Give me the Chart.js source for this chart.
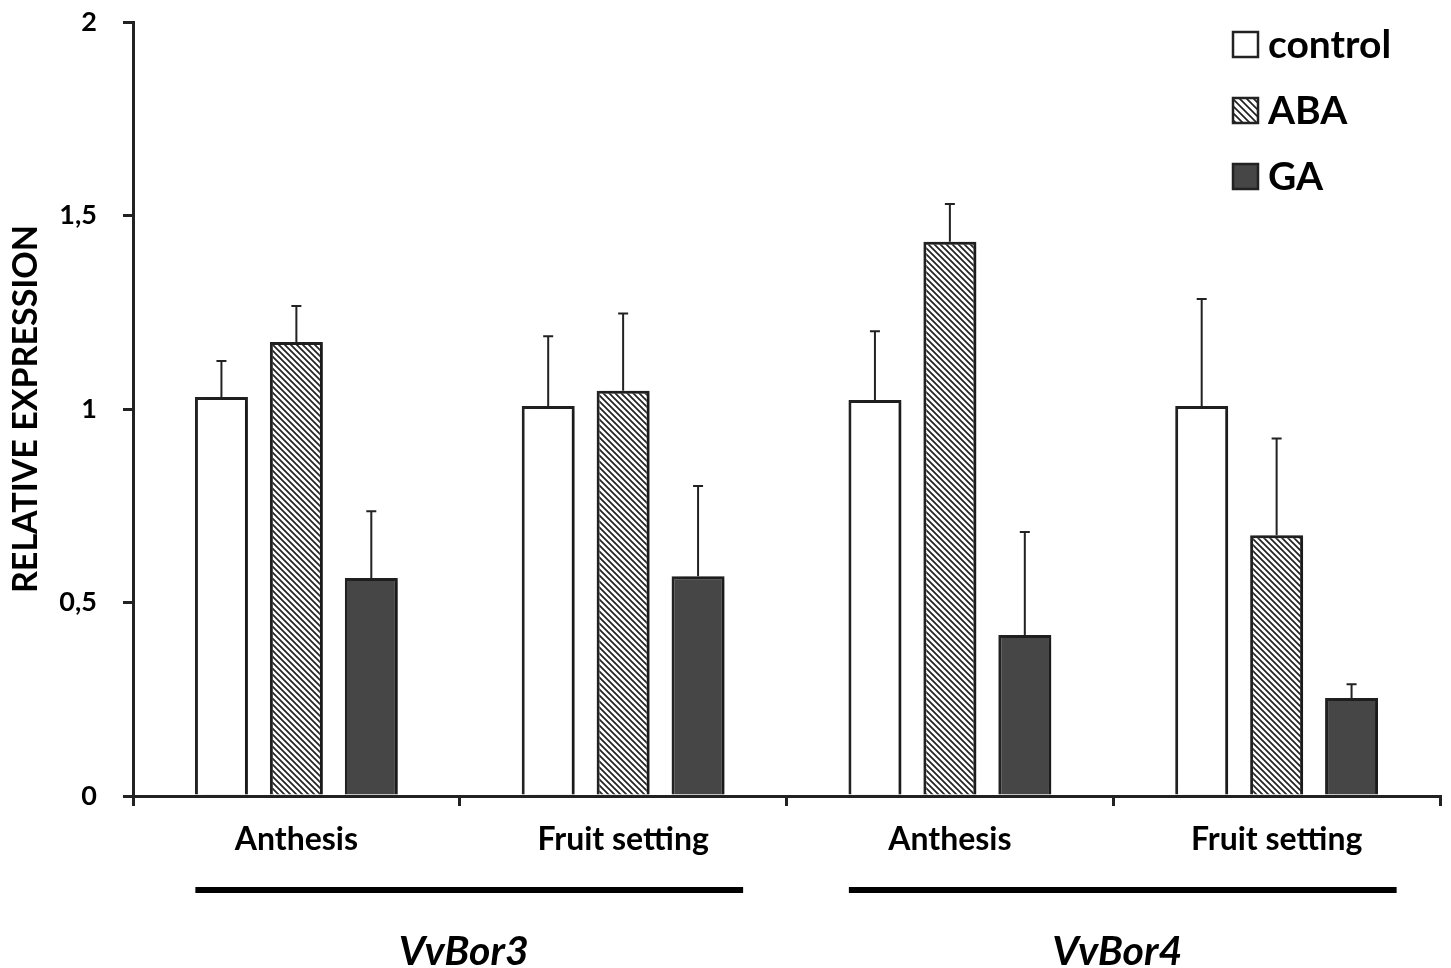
<!DOCTYPE html>
<html>
<head>
<meta charset="utf-8">
<script src="https://cdn.jsdelivr.net/npm/chart.js@4.4.0/dist/chart.umd.min.js"></script>
<style>
  html, body { margin: 0; padding: 0; background: #fff; }
  #wrap { width: 1451px; height: 968px; }
</style>
</head>
<body>
<div id="wrap"><canvas id="chart" width="1451" height="968"></canvas></div>
<script>
// values
const categories = ['Anthesis', 'Fruit setting', 'Anthesis', 'Fruit setting'];
const genes = ['VvBor3', 'VvBor4'];
const seriesNames = ['control', 'ABA', 'GA'];
const controlVals = [1.031, 1.008, 1.023, 1.008];
const controlErr = [0.093, 0.180, 0.178, 0.276];
const abaVals = [1.173, 1.047, 1.432, 0.674];
const abaErr = [0.093, 0.200, 0.098, 0.250];
const gaVals = [0.563, 0.568, 0.416, 0.253];
const gaErr = [0.173, 0.233, 0.266, 0.036];
const yTicks = [0, 0.5, 1, 1.5, 2];

const FONT = 'Lato, "Open Sans", sans-serif';
const INK = '#222';

// diagonal hatch for ABA
function makeHatch(size) {
    const c = document.createElement('canvas');
    c.width = size; c.height = size;
    const g = c.getContext('2d');
    g.fillStyle = '#fff';
    g.fillRect(0, 0, size, size);
    g.strokeStyle = INK;
    g.lineWidth = 1.7;
    g.beginPath();
    g.moveTo(-1, -1); g.lineTo(size + 1, size + 1);
    g.moveTo(-1, size - 1); g.lineTo(1, size + 1);
    g.moveTo(size - 1, -1); g.lineTo(size + 1, 1);
    g.stroke();
    return g.createPattern(c, 'repeat');
}
const hatch = makeHatch(6);
const fills = ['#ffffff', hatch, '#464646'];

// shadow under bars + one-sided error bars
const barExtras = {
    id: 'barExtras',
    beforeDatasetsDraw(chart) {
        const ctx = chart.ctx;
        ctx.save();
        ctx.shadowColor = 'rgba(0,0,0,0.28)';
        ctx.shadowBlur = 7;
        ctx.shadowOffsetX = 5;
        ctx.shadowOffsetY = 0;
    },
    afterDatasetsDraw(chart) {
        const ctx = chart.ctx;
        ctx.restore();
        const y = chart.scales.y;
        ctx.save();
        ctx.strokeStyle = INK;
        ctx.lineWidth = 2;
        chart.data.datasets.forEach((ds, i) => {
            const meta = chart.getDatasetMeta(i);
            meta.data.forEach((bar, j) => {
                const top = y.getPixelForValue(ds.data[j]);
                const cap = y.getPixelForValue(ds.data[j] + ds.errors[j]);
                ctx.beginPath();
                ctx.moveTo(bar.x, top);
                ctx.lineTo(bar.x, cap);
                ctx.moveTo(bar.x - 5, cap);
                ctx.lineTo(bar.x + 5, cap);
                ctx.stroke();
            });
        });
        ctx.restore();
    }
};

// axis title, gene brackets, legend
const annotations = {
    id: 'annotations',
    afterDraw(chart) {
        const ctx = chart.ctx;
        const x = chart.scales.x;
        const area = chart.chartArea;
        ctx.save();

        // y title
        ctx.translate(26, (area.top + area.bottom) / 2);
        ctx.rotate(-Math.PI / 2);
        ctx.fillStyle = '#000';
        ctx.font = 'bold 34px ' + FONT;
        ctx.textAlign = 'center';
        ctx.textBaseline = 'middle';
        ctx.fillText('RELATIVE EXPRESSION', 0, 0);
        ctx.setTransform(1, 0, 0, 1, 0, 0);

        // gene groups
        genes.forEach((gene, k) => {
            const a = x.getPixelForValue(k * 2);
            const b = x.getPixelForValue(k * 2 + 1);
            ctx.fillStyle = '#000';
            ctx.fillRect(a - 101, 887, (b + 120) - (a - 101), 6);
            ctx.font = 'italic bold 41px ' + FONT;
            ctx.textAlign = 'center';
            ctx.textBaseline = 'middle';
            ctx.fillText(gene, (a + b) / 2 + 4, 952);
        });

        // legend
        const rows = [45, 111, 177];
        seriesNames.forEach((name, i) => {
            const cy = rows[i];
            ctx.fillStyle = i === 1 ? makeHatch(7) : fills[i];
            ctx.fillRect(1233, cy - 13, 25, 25);
            ctx.strokeStyle = INK;
            ctx.lineWidth = 2.5;
            ctx.strokeRect(1233, cy - 13, 25, 25);
            ctx.fillStyle = '#000';
            ctx.font = 'bold 39px ' + FONT;
            ctx.textAlign = 'left';
            ctx.textBaseline = 'middle';
            ctx.fillText(name, 1268, cy);
        });
        ctx.restore();
    }
};

function makeSet(label, vals, errs, fill) {
    return {
        label: label,
        data: vals,
        errors: errs,
        backgroundColor: fill,
        borderColor: INK,
        borderWidth: 3,
        categoryPercentage: 0.688,
        barPercentage: 0.707
    };
}

new Chart(document.getElementById('chart'), {
    type: 'bar',
    data: {
        labels: categories,
        datasets: [
            makeSet(seriesNames[0], controlVals, controlErr, fills[0]),
            makeSet(seriesNames[1], abaVals, abaErr, fills[1]),
            makeSet(seriesNames[2], gaVals, gaErr, fills[2])
        ]
    },
    options: {
        responsive: false,
        animation: false,
        layout: { padding: { top: 22, right: 11, left: 0, bottom: 0 } },
        plugins: {
            legend: { display: false },
            tooltip: { enabled: false }
        },
        scales: {
            x: {
                grid: { display: true, drawOnChartArea: false, offset: true, tickLength: 10, color: INK, lineWidth: 3 },
                border: { color: INK, width: 3 },
                ticks: { color: '#000', padding: 14, font: { family: FONT, weight: 'bold', size: 32 } },
                afterFit: s => { s.height = 172; }
            },
            y: {
                min: 0,
                max: 2,
                afterBuildTicks: s => { s.ticks = yTicks.map(v => ({ value: v })); },
                grid: { display: true, drawOnChartArea: false, tickLength: 10, color: INK, lineWidth: 3 },
                border: { color: INK, width: 3 },
                ticks: {
                    color: '#000',
                    padding: 26,
                    font: { family: FONT, weight: 'bold', size: 27 },
                    callback: v => String(v).replace('.', ',')
                },
                afterFit: s => {
                    s.width = 133;
                    s.paddingTop = 0;
                    s.paddingBottom = 0;
                }
            }
        }
    },
    plugins: [barExtras, annotations]
});
</script>
</body>
</html>
